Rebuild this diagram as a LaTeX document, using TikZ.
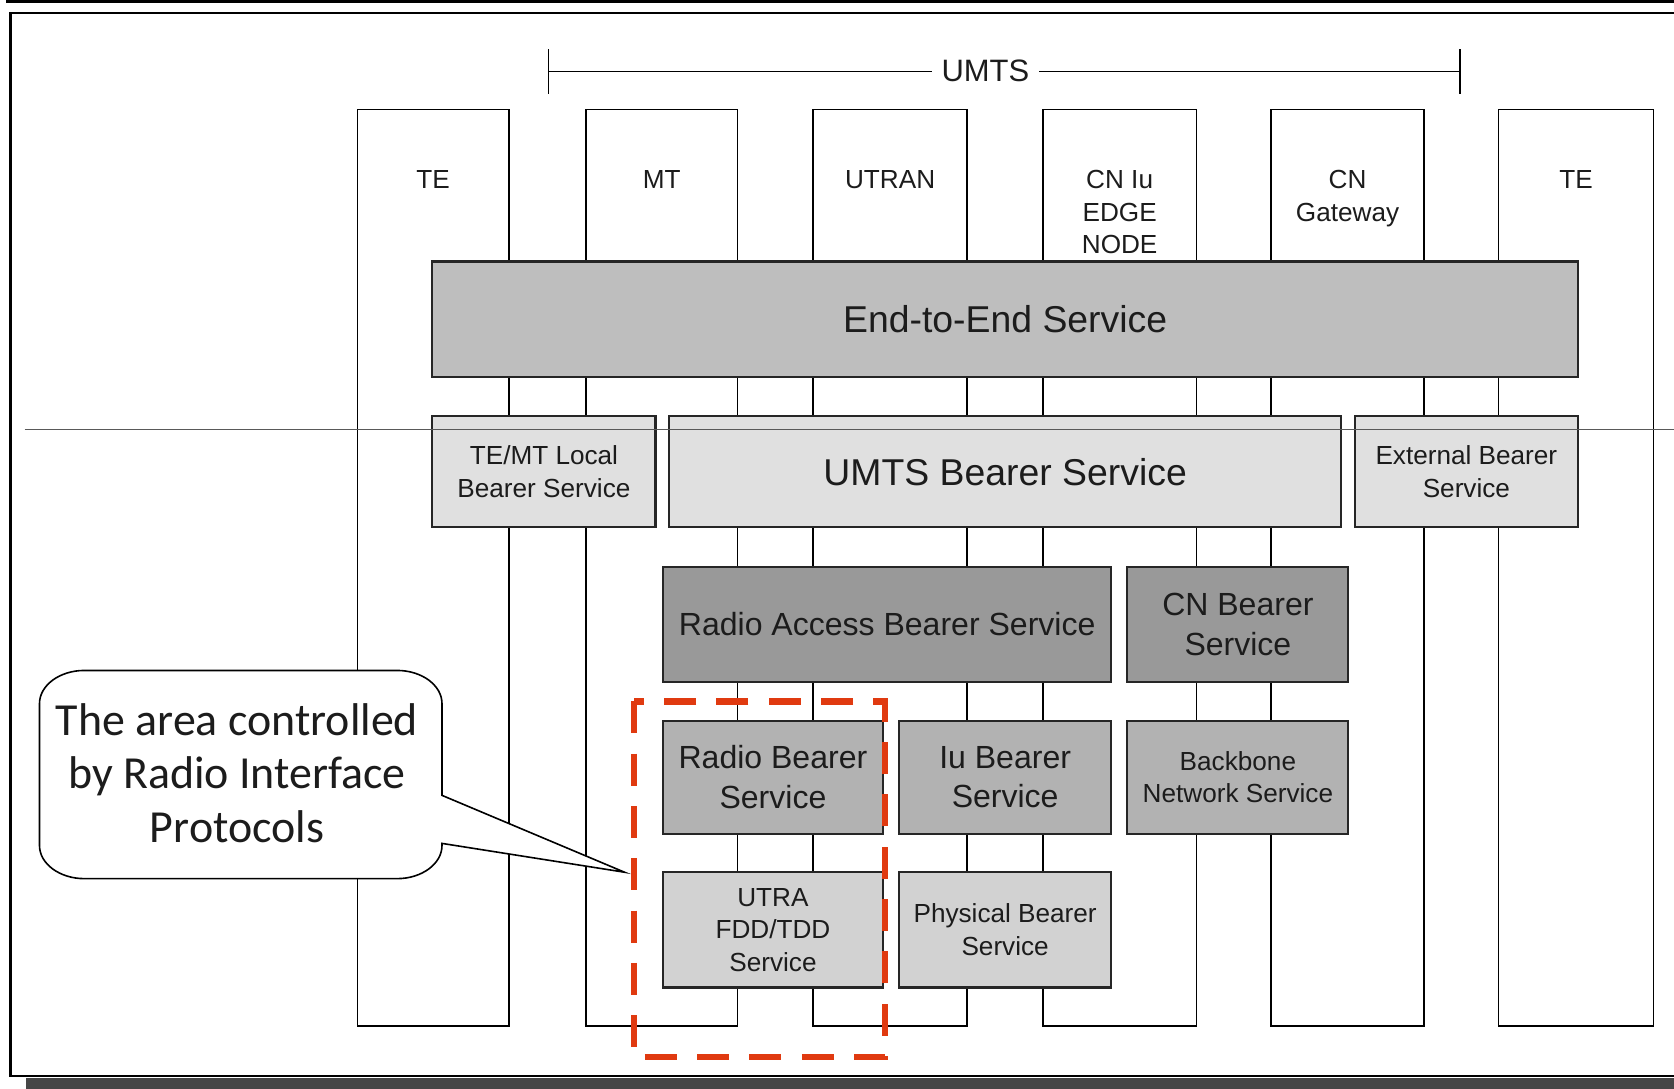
\documentclass[tikz,border=0pt]{standalone}
\usepackage{fontspec}
\setmainfont{Liberation Sans}
\newfontfamily\calloutfont{Carlito}
\usetikzlibrary{arrows.meta}
\newcommand\myL{\fontsize{17.5}{21}\selectfont}
\newcommand\myM{\fontsize{15}{18.5}\selectfont}
\newcommand\myS{\fontsize{12.25}{15.25}\selectfont}
\newcommand\myU{\fontsize{14.5}{17}\selectfont}
\definecolor{gEE}{HTML}{BEBEBE}
\definecolor{gLt}{HTML}{E0E0E0}
\definecolor{gDk}{HTML}{999999}
\definecolor{gMd}{HTML}{B2B2B2}
\definecolor{gHt}{HTML}{D2D2D2}
\definecolor{txt}{HTML}{1C1C1C}
\definecolor{redd}{RGB}{224,58,16}
\definecolor{shadowc}{HTML}{464646}
\begin{document}
\begin{tikzpicture}[x=0.5pt, y=-0.5pt,
  col/.style={draw=black, line width=0.75pt, fill=white, anchor=north west,
    inner sep=0pt, minimum height=429pt},
  colname/.style={anchor=north, yshift=-28.6pt, inner sep=0pt, align=center,
    font=\myS, text=txt},
  box/.style={draw=black!85, line width=1pt, anchor=north west, inner sep=0pt,
    align=center, text=txt},
  redbox/.style={draw=redd, line width=3pt, dash pattern=on 15pt off 9.5pt},
  bubble/.style={draw=black, line width=0.75pt, fill=white}]
\useasboundingbox (0,0) rectangle (1568,1020);
\clip (0,0) rectangle (1568,1020);
% page frame
\fill[black] (6,0) rectangle (1580,2.6);
\draw[line width=1.2pt] (1590,12) -- (10,12) -- (10,1008) -- (1590,1008);
\fill[shadowc] (24,1010) rectangle (1590,1021);
% UMTS bracket
\coordinate (uL) at (513,67);
\coordinate (uR) at (1368,67);
\draw[line width=0.75pt, {Bar[width=21pt]}-{Bar[width=21pt]}] (uL) -- (uR);
\node[fill=white, inner xsep=4.7pt, inner ysep=2pt, font=\myU, text=txt] (umts) at (923,66) {UMTS};
% columns
\node[col, minimum width=71pt, label={[colname]north:TE}] (te1) at (334,102) {};
\node[col, minimum width=71pt, label={[colname]north:MT}] (mt) at (548,102) {};
\node[col, minimum width=72pt, label={[colname]north:UTRAN}] (utran) at (761,102) {};
\node[col, minimum width=72pt, label={[colname]north:CN Iu\\EDGE\\NODE}] (cniu) at (976,102) {};
\node[col, minimum width=71.5pt, label={[colname]north:CN\\Gateway}] (cngw) at (1190,102) {};
\node[col, minimum width=72.5pt, label={[colname]north:TE}] (te2) at (1403,102) {};
% service boxes
\node[box, fill=gEE, minimum width=536.5pt, minimum height=54pt, font=\myL] (e2e) at (404,244) {End-to-End Service};
\node[box, fill=gLt, minimum width=104.5pt, minimum height=52pt, font=\myS] (temt) at (404,389) {TE/MT Local\\Bearer Service};
\node[box, fill=gLt, minimum width=314.5pt, minimum height=52pt, font=\myL] (umtsb) at (626,389) {UMTS Bearer Service};
\node[box, fill=gLt, minimum width=104.5pt, minimum height=52pt, font=\myS] (ext) at (1268,389) {External Bearer\\Service};
\node[box, fill=gDk, minimum width=210pt, minimum height=54pt, font=\myM] (rab) at (620,530) {Radio Access Bearer Service};
\node[box, fill=gDk, minimum width=103.5pt, minimum height=54pt, font=\myM] (cnb) at (1055,530) {CN Bearer\\Service};
\node[box, fill=gMd, minimum width=103pt, minimum height=53pt, font=\myM] (rb) at (620,674) {Radio Bearer\\Service};
\node[box, fill=gMd, minimum width=99.5pt, minimum height=53pt, font=\myM] (iub) at (841,674) {Iu Bearer\\Service};
\node[box, fill=gMd, minimum width=103.5pt, minimum height=53pt, font=\myS] (bb) at (1055,674) {Backbone\\Network Service};
\node[box, fill=gHt, minimum width=103pt, minimum height=54pt, font=\myS] (utra) at (620,816) {UTRA\\FDD/TDD\\Service};
\node[box, fill=gHt, minimum width=99.5pt, minimum height=54pt, font=\myS] (phy) at (841,816) {Physical Bearer\\Service};
% callout bubble
\coordinate (tip) at (585,817);
\draw[bubble] (79,628) -- (372,628) .. controls (395.2,628) and (414,642) .. (414,659)
  -- (414,745) -- (tip) -- (414,790) -- (414,792)
  .. controls (414,809) and (395.2,823) .. (372,823) -- (79,823)
  .. controls (55.8,823) and (37,809) .. (37,792) -- (37,659)
  .. controls (37,642) and (55.8,628) .. (79,628) -- cycle;
\node[align=center, inner sep=0pt, text=txt, font={\calloutfont\fontsize{21.5}{25}\selectfont}] (callout) at (222,724) {The area controlled\\by Radio Interface\\Protocols};
% red dashed area
\draw[redbox] (594,657) rectangle (829,990);
% thin crossing line
\coordinate (hL) at (23,402);
\coordinate (hR) at (1580,402);
\draw[black!65, line width=0.5pt] (hL) -- (hR);
\end{tikzpicture}
\end{document}
